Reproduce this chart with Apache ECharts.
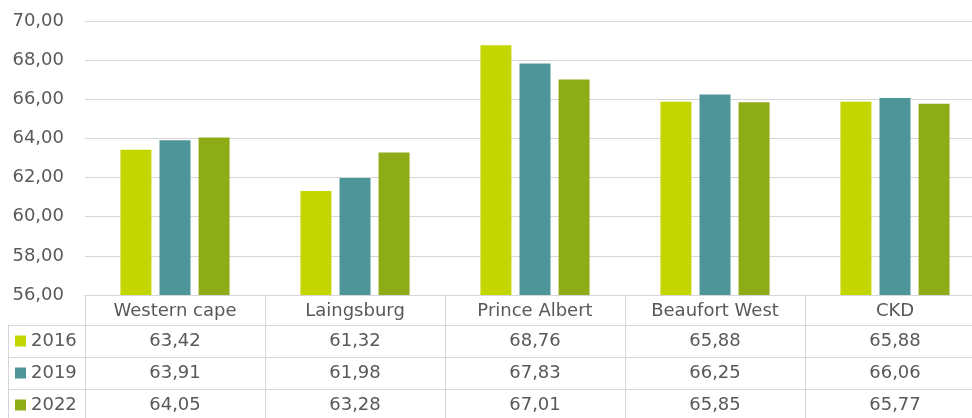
<!DOCTYPE html>
<html><head><meta charset="utf-8">
<script src="https://cdn.jsdelivr.net/npm/echarts@6/dist/echarts.min.js"></script>
<style>html,body{margin:0;padding:0;background:#fff}#c{width:972px;height:418px}</style>
</head><body><div id="c"></div>
<script>
const categories = ['Western cape', 'Laingsburg', 'Prince Albert', 'Beaufort West', 'CKD'];
const years = ['2016', '2019', '2022'];
const v2016 = [63.42, 61.32, 68.76, 65.88, 65.88];
const v2019 = [63.91, 61.98, 67.83, 66.25, 66.06];
const v2022 = [64.05, 63.28, 67.01, 65.85, 65.77];
const yTicks = { min: 56, max: 70, interval: 2 };

const colors = ['#C4D600', '#4E9599', '#8EAC17'];
const seriesVals = [v2016, v2019, v2022];
const FONT = 'DejaVu Sans';
const TXT = '#595959';
const LINE = '#d6d6d6';
const fmt = v => Number(v).toFixed(2).replace('.', ',');

const chart = echarts.init(document.getElementById('c'), null, { renderer: 'canvas' });

const barSeries = years.map((y, i) => ({
  name: y, type: 'bar', xAxisIndex: 0, yAxisIndex: 0,
  data: seriesVals[i], barWidth: 31, barGap: '26%',
  itemStyle: { color: colors[i] }, silent: true
}));

const tableSeries = years.map((y, i) => ({
  name: y + ' table', type: 'scatter', xAxisIndex: 1, yAxisIndex: 1,
  data: seriesVals[i].map((v, j) => [j, i, v]),
  symbolSize: 0, itemStyle: { color: TXT, opacity: 1 }, silent: true,
  label: { show: true, position: 'inside', formatter: p => fmt(p.value[2]),
    color: TXT, opacity: 1, textBorderWidth: 0, fontFamily: FONT, fontSize: 18 }
}));

const rich = { t: { fontFamily: FONT, fontSize: 18, color: TXT, padding: [0, 0, 0, 5] } };
colors.forEach((c, i) => { rich['s' + i] = { width: 11, height: 11, backgroundColor: c }; });

chart.setOption({
  animation: false,
  grid: [
    { left: 85, width: 900, top: 21, height: 274, outerBoundsMode: 'none', containLabel: false },
    { left: 85, width: 900, top: 325, height: 96, outerBoundsMode: 'none', containLabel: false }
  ],
  xAxis: [
    { type: 'category', gridIndex: 0, data: categories,
      axisLine: { show: true, lineStyle: { color: LINE, width: 1 } },
      axisTick: { show: true, interval: 0, length: 126, lineStyle: { color: LINE, width: 1 } },
      axisLabel: { interval: 0, margin: 7, color: TXT, fontFamily: FONT, fontSize: 18 } },
    { type: 'category', gridIndex: 1, data: categories, position: 'top',
      axisLine: { show: true, lineStyle: { color: LINE, width: 1 } },
      axisTick: { show: false }, axisLabel: { show: false },
      splitLine: { show: false } }
  ],
  yAxis: [
    { type: 'value', gridIndex: 0, min: yTicks.min, max: yTicks.max, interval: yTicks.interval,
      axisLine: { show: false }, axisTick: { show: false },
      axisLabel: { margin: 21, color: TXT, fontFamily: FONT, fontSize: 18, formatter: v => fmt(v) },
      splitLine: { show: true, lineStyle: { color: LINE, width: 1 } } },
    { type: 'category', gridIndex: 1, data: years, inverse: true,
      axisLine: { show: false },
      axisTick: { show: true, interval: 0, length: 77, lineStyle: { color: LINE, width: 1 } },
      axisLabel: { interval: 0, margin: 70, align: 'left',
        formatter: (v, i) => '{s' + i + '|}{t|' + v + '}', rich: rich },
      splitLine: { show: true, interval: 0, lineStyle: { color: LINE, width: 1 } } },
    { type: 'category', gridIndex: 1, data: years, position: 'left', offset: 77,
      axisLine: { show: true, lineStyle: { color: LINE, width: 1 } },
      axisTick: { show: false }, axisLabel: { show: false }, splitLine: { show: false } }
  ],
  series: barSeries.concat(tableSeries)
});
</script></body></html>
